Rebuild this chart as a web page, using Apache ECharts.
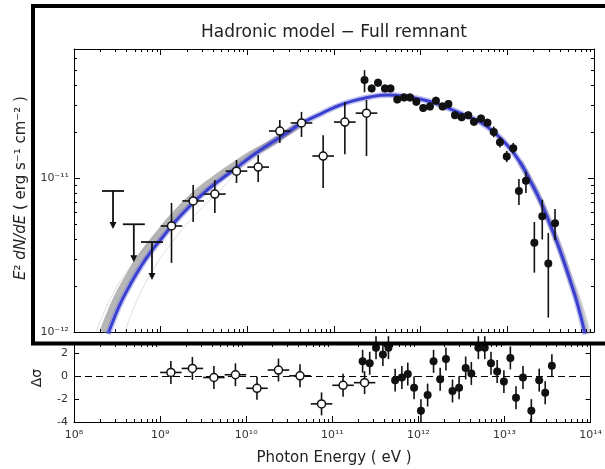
<!DOCTYPE html>
<html><head><meta charset="utf-8">
<script src="https://cdn.jsdelivr.net/npm/echarts@6/dist/echarts.min.js"></script>
<style>html,body{margin:0;padding:0;background:#fff}#c{width:605px;height:469px}</style>
</head><body><div id="c"></div>
<script>
// ---------- data ----------
const xTickLabels = ['10⁸','10⁹','10¹⁰','10¹¹','10¹²','10¹³','10¹⁴'];
const yTickLabels = {'-12':'10⁻¹²','-11':'10⁻¹¹'};

const upperLimitE = [2.82e8, 4.90e8, 7.94e8];
const upperLimitF = [8.24e-12, 5.01e-12, 3.84e-12];

const fermiE   = [1.334e9, 2.371e9, 4.217e9, 7.499e9, 1.334e10, 2.371e10, 4.217e10, 7.499e10, 1.334e11, 2.371e11];
const fermiELo = [1e9, 1.778e9, 3.162e9, 5.623e9, 1e10, 1.778e10, 3.162e10, 5.623e10, 1e11, 1.778e11];
const fermiEHi = [1.778e9, 3.162e9, 5.623e9, 1e10, 1.778e10, 3.162e10, 5.623e10, 1e11, 1.778e11, 3.162e11];
const fermiF   = [4.88e-12, 7.10e-12, 7.87e-12, 1.109e-11, 1.178e-11, 2.02e-11, 2.28e-11, 1.39e-11, 2.31e-11, 2.64e-11];
const fermiFLo = [2.81e-12, 5.18e-12, 5.93e-12, 9.29e-12, 9.42e-12, 1.69e-11, 1.85e-11, 8.61e-12, 1.43e-11, 1.39e-11];
const fermiFHi = [6.89e-12, 9.02e-12, 9.70e-12, 1.31e-11, 1.41e-11, 2.38e-11, 2.69e-11, 1.90e-11, 3.12e-11, 3.21e-11];

const hessE = [2.25e11, 2.72e11, 3.22e11, 3.87e11, 4.49e11, 5.37e11, 6.43e11, 7.53e11, 8.91e11, 1.07e12,
  1.28e12, 1.50e12, 1.79e12, 2.09e12, 2.49e12, 2.97e12, 3.54e12, 4.12e12, 4.97e12, 5.90e12,
  6.97e12, 8.22e12, 9.84e12, 1.17e13, 1.36e13, 1.64e13, 2.05e13, 2.53e13, 2.97e13, 3.55e13];
const hessF = [4.33e-11, 3.82e-11, 4.16e-11, 3.82e-11, 3.82e-11, 3.24e-11, 3.34e-11, 3.34e-11, 3.13e-11, 2.85e-11,
  2.92e-11, 3.18e-11, 2.92e-11, 3.03e-11, 2.56e-11, 2.48e-11, 2.56e-11, 2.32e-11, 2.44e-11, 2.29e-11,
  1.99e-11, 1.71e-11, 1.38e-11, 1.56e-11, 8.24e-12, 9.59e-12, 3.80e-12, 5.64e-12, 2.79e-12, 5.08e-12];
const hessFLo = [3.61e-11, 3.61e-11, 3.93e-11, 3.61e-11, 3.61e-11, 3.06e-11, 3.15e-11, 3.15e-11, 2.96e-11, 2.69e-11,
  2.76e-11, 3.00e-11, 2.76e-11, 2.86e-11, 2.42e-11, 2.34e-11, 2.42e-11, 2.19e-11, 2.30e-11, 2.16e-11,
  1.84e-11, 1.58e-11, 1.27e-11, 1.44e-11, 6.68e-12, 8.00e-12, 2.43e-12, 3.99e-12, 1.24e-12, 3.95e-12];
const hessFHi = [5.02e-11, 4.05e-11, 4.41e-11, 4.05e-11, 4.05e-11, 3.43e-11, 3.54e-11, 3.54e-11, 3.31e-11, 3.02e-11,
  3.09e-11, 3.37e-11, 3.09e-11, 3.21e-11, 2.71e-11, 2.63e-11, 2.71e-11, 2.46e-11, 2.58e-11, 2.43e-11,
  2.16e-11, 1.85e-11, 1.50e-11, 1.69e-11, 9.86e-12, 1.099e-11, 5.18e-12, 7.24e-12, 4.40e-12, 6.30e-12];

const modelE = [2.47e8, 2.97e8, 3.58e8, 4.43e8, 5.78e8, 7.54e8, 1.036e9, 1.46e9, 2.18e9, 3.24e9, 4.84e9, 7.40e9,
  1.13e10, 1.73e10, 2.72e10, 4.05e10, 6.54e10, 1.03e11, 1.61e11, 2.60e11, 4.08e11, 6.59e11, 9.82e11,
  1.46e12, 2.18e12, 3.24e12, 4.84e12, 7.21e12, 1.02e13, 1.40e13, 1.82e13, 2.38e13, 3.10e13, 4.05e13, 5.28e13, 6.53e13, 7.87e13];
const modelF = [9.7e-13, 1.27e-12, 1.61e-12, 2.02e-12, 2.61e-12, 3.26e-12, 4.08e-12, 5.18e-12, 6.58e-12, 8.11e-12, 9.70e-12, 1.16e-11,
  1.39e-11, 1.64e-11, 1.93e-11, 2.24e-11, 2.56e-11, 2.89e-11, 3.16e-11, 3.36e-11, 3.46e-11, 3.40e-11, 3.26e-11,
  3.07e-11, 2.81e-11, 2.56e-11, 2.31e-11, 1.96e-11, 1.61e-11, 1.27e-11, 9.70e-12, 7.20e-12, 5.03e-12, 3.40e-12, 2.18e-12, 1.48e-12, 9.7e-13];

// grey uncertainty band: low-energy side and high-energy tail
const bandLowE = [2.16e8, 2.60e8, 3.13e8, 3.87e8, 5.06e8, 6.59e8, 9.07e8, 1.28e9, 1.91e9, 2.85e9, 4.35e9, 6.65e9, 1.07e10, 1.73e10, 2.72e10, 4.05e10];
const bandLowF = [1.0e-12, 1.31e-12, 1.66e-12, 2.08e-12, 2.69e-12, 3.36e-12, 4.20e-12, 5.33e-12, 6.78e-12, 8.36e-12, 1.0e-11, 1.18e-11, 1.41e-11, 1.64e-11, 1.93e-11, 2.24e-11];
const bandHighE = [1.40e13, 1.82e13, 2.38e13, 3.10e13, 4.05e13, 5.28e13, 6.89e13, 8.53e13];
const bandHighF = [1.27e-11, 9.70e-12, 7.25e-12, 5.10e-12, 3.48e-12, 2.25e-12, 1.48e-12, 9.7e-13];

const sampleAE = [1.80e8, 2.28e8, 2.97e8, 4.20e8, 6.59e8, 1.12e9, 2.18e9, 4.24e9, 8.22e9, 1.83e10, 4.05e10];
const sampleAF = [1.0e-12, 1.39e-12, 1.87e-12, 2.53e-12, 3.51e-12, 4.88e-12, 6.89e-12, 9.02e-12, 1.16e-11, 1.57e-11, 2.24e-11];
const sampleBE = [3.87e8, 5.06e8, 7.54e8, 1.28e9, 2.49e9, 4.84e9, 1.07e10, 2.38e10, 5.28e10];
const sampleBF = [1.0e-12, 1.50e-12, 2.34e-12, 3.67e-12, 5.75e-12, 8.36e-12, 1.31e-11, 1.77e-11, 2.34e-11];

const fermiResid = [0.32, 0.67, -0.12, 0.12, -1.06, 0.53, 0.03, -2.42, -0.80, -0.57];
const hessResid = [1.29, 1.12, 2.48, 1.88, 2.48, -0.35, -0.12, 0.18, -1.01, -3.01, -1.65, 1.29, -0.27, 1.50, -1.30,
  -1.01, 0.71, 0.23, 2.48, 2.48, 1.12, 0.41, -0.48, 1.59, -1.89, -0.12, -3.01, -0.35, -1.45, 0.91];
const residErr = 1;

// ---------- helpers ----------
const FONT = '"DejaVu Sans", "Liberation Sans", sans-serif';
const X_MIN = 1e8, X_MAX = 1e14, Y_MIN = 1e-12, Y_MAX = 6.89e-11;
const xMinor = []; for (let d = 8; d < 14; d++) for (let m = 2; m <= 9; m++) xMinor.push(m * Math.pow(10, d));
const yMinor = []; for (let d = -12; d < -10; d++) for (let m = 2; m <= 9; m++) { const v = m * Math.pow(10, d); if (v < Y_MAX) yMinor.push(v); }
const zip = (...arrs) => arrs[0].map((_, i) => arrs.map(a => a[i]));
const isPow10 = v => { const l = Math.log10(v); return Math.abs(l - Math.round(l)) < 1e-6; };
const ink = '#111';

function errRender(withX) {
  return function (params, api) {
    const x = api.value(0), y = api.value(1);
    const lo = api.coord([x, api.value(withX ? 4 : 2)]);
    const hi = api.coord([x, api.value(withX ? 5 : 3)]);
    const ch = [{type: 'line', shape: {x1: lo[0], y1: lo[1], x2: hi[0], y2: hi[1]}, style: {stroke: ink, lineWidth: 1.6}}];
    if (withX) {
      const l = api.coord([api.value(2), y]), r = api.coord([api.value(3), y]);
      ch.push({type: 'line', shape: {x1: l[0], y1: l[1], x2: r[0], y2: r[1]}, style: {stroke: ink, lineWidth: 1.6}});
    }
    return {type: 'group', children: ch};
  };
}
function xMinorRender(params, api) {
  const cs = params.coordSys;
  const x = Math.round(api.coord([api.value(0), api.value(1)])[0]) + 0.5;
  return {type: 'group', children: [
    {type: 'line', shape: {x1: x, y1: cs.y + cs.height, x2: x, y2: cs.y + cs.height - 3}, style: {stroke: '#000', lineWidth: 1}},
    {type: 'line', shape: {x1: x, y1: cs.y, x2: x, y2: cs.y + 3}, style: {stroke: '#000', lineWidth: 1}}
  ]};
}
function yMinorRender(params, api) {
  const cs = params.coordSys;
  const y = Math.round(api.coord([api.value(0), api.value(1)])[1]) + 0.5;
  return {type: 'group', children: [
    {type: 'line', shape: {x1: cs.x, y1: y, x2: cs.x + 3, y2: y}, style: {stroke: '#000', lineWidth: 1}},
    {type: 'line', shape: {x1: cs.x + cs.width, y1: y, x2: cs.x + cs.width - 3, y2: y}, style: {stroke: '#000', lineWidth: 1}}
  ]};
}
function ulRender(params, api) {
  const p = api.coord([api.value(0), api.value(1)]);
  const x = p[0], y = p[1];
  return {type: 'group', children: [
    {type: 'line', shape: {x1: x - 11, y1: y, x2: x + 11, y2: y}, style: {stroke: ink, lineWidth: 1.8}},
    {type: 'line', shape: {x1: x, y1: y, x2: x, y2: y + 32}, style: {stroke: ink, lineWidth: 1.8}},
    {type: 'polygon', shape: {points: [[x - 3.5, y + 31], [x + 3.5, y + 31], [x, y + 38]]}, style: {fill: ink}}
  ]};
}

const axisLineStyle = {onZero: false, lineStyle: {color: '#000', width: 1}};
const majorTick = {inside: true, length: 6, lineStyle: {color: '#000', width: 1}};

const option = {
  animation: false,
  textStyle: {fontFamily: FONT},
  grid: [
    {left: 74, right: 11, top: 49, height: 283},
    {left: 74, right: 11, top: 344, height: 78}
  ],
  xAxis: [
    {type: 'log', gridIndex: 0, position: 'bottom', min: X_MIN, max: X_MAX, axisLine: axisLineStyle, axisTick: majorTick, axisLabel: {show: false}, splitLine: {show: false}},
    {type: 'log', gridIndex: 0, position: 'top', min: X_MIN, max: X_MAX, axisLine: axisLineStyle, axisTick: majorTick, axisLabel: {show: false}, splitLine: {show: false}},
    {type: 'log', gridIndex: 1, position: 'bottom', min: X_MIN, max: X_MAX, axisLine: axisLineStyle, axisTick: majorTick,
      axisLabel: {color: '#333', fontSize: 11, margin: 8, showMinLabel: true, showMaxLabel: true,
        formatter: v => isPow10(v) ? xTickLabels[Math.round(Math.log10(v)) - 8] : ''},
      splitLine: {show: false}}
  ],
  yAxis: [
    {type: 'log', gridIndex: 0, position: 'left', min: Y_MIN, max: Y_MAX, axisLine: axisLineStyle, axisTick: majorTick,
      axisLabel: {color: '#333', fontSize: 11, margin: 5, showMinLabel: true,
        formatter: v => isPow10(v) ? (yTickLabels[String(Math.round(Math.log10(v)))] || '') : ''},
      splitLine: {show: false}},
    {type: 'log', gridIndex: 0, position: 'right', min: Y_MIN, max: Y_MAX, axisLine: axisLineStyle, axisTick: majorTick, axisLabel: {show: false}, splitLine: {show: false}},
    {type: 'value', gridIndex: 1, position: 'left', min: -4, max: 2.8, interval: 2, axisLine: axisLineStyle, axisTick: {inside: true, length: 5, lineStyle: {color: '#000'}},
      axisLabel: {color: '#333', fontSize: 11, margin: 6, showMaxLabel: false, formatter: v => (Math.abs(v / 2 - Math.round(v / 2)) < 1e-9 ? String(v) : '')},
      splitLine: {show: false}},
    {type: 'value', gridIndex: 1, position: 'right', min: -4, max: 2.8, interval: 2, axisLine: axisLineStyle, axisTick: {inside: true, length: 5, lineStyle: {color: '#000'}},
      axisLabel: {show: false}, splitLine: {show: false}}
  ],
  series: [
    {type: 'line', xAxisIndex: 0, yAxisIndex: 0, data: zip(sampleAE, sampleAF), smooth: true, symbol: 'none', lineStyle: {color: 'rgba(150,150,150,0.3)', width: 1}, z: 1},
    {type: 'line', xAxisIndex: 0, yAxisIndex: 0, data: zip(sampleBE, sampleBF), smooth: true, symbol: 'none', lineStyle: {color: 'rgba(150,150,150,0.3)', width: 1}, z: 1},
    {type: 'line', xAxisIndex: 0, yAxisIndex: 0, data: zip(bandLowE, bandLowF), smooth: true, symbol: 'none', lineStyle: {color: 'rgba(110,110,110,0.5)', width: 7}, z: 2},
    {type: 'line', xAxisIndex: 0, yAxisIndex: 0, data: zip(bandHighE, bandHighF), smooth: true, symbol: 'none', lineStyle: {color: 'rgba(130,130,130,0.35)', width: 6}, z: 2},
    {type: 'line', xAxisIndex: 0, yAxisIndex: 0, data: zip(modelE, modelF), smooth: true, symbol: 'none', lineStyle: {color: 'rgba(80,85,210,0.35)', width: 6}, z: 3},
    {type: 'line', xAxisIndex: 0, yAxisIndex: 0, data: zip(modelE, modelF), smooth: true, symbol: 'none', lineStyle: {color: '#3a3fcf', width: 3}, z: 3},
    {type: 'custom', xAxisIndex: 0, yAxisIndex: 0, data: zip(upperLimitE, upperLimitF), renderItem: ulRender, z: 5},
    {type: 'custom', xAxisIndex: 0, yAxisIndex: 0, data: zip(fermiE, fermiF, fermiELo, fermiEHi, fermiFLo, fermiFHi), renderItem: errRender(true), z: 5},
    {type: 'scatter', xAxisIndex: 0, yAxisIndex: 0, data: zip(fermiE, fermiF), symbol: 'circle', symbolSize: 8, itemStyle: {color: '#fff', borderColor: ink, borderWidth: 1.5, opacity: 1}, z: 6},
    {type: 'custom', xAxisIndex: 0, yAxisIndex: 0, data: zip(hessE, hessF, hessFLo, hessFHi), renderItem: errRender(false), z: 5},
    {type: 'scatter', xAxisIndex: 0, yAxisIndex: 0, data: zip(hessE, hessF), symbol: 'circle', symbolSize: 8, itemStyle: {color: ink, opacity: 1}, z: 6},
    {type: 'custom', xAxisIndex: 0, yAxisIndex: 0, data: xMinor.map(v => [v, 1e-11]), renderItem: xMinorRender, z: 7, silent: true},
    {type: 'custom', xAxisIndex: 0, yAxisIndex: 0, data: yMinor.map(v => [1e10, v]), renderItem: yMinorRender, z: 7, silent: true},
    {type: 'custom', xAxisIndex: 2, yAxisIndex: 2, data: zip(fermiE, fermiResid, fermiELo, fermiEHi, fermiResid.map(r => r - residErr), fermiResid.map(r => r + residErr)), renderItem: errRender(true), z: 5},
    {type: 'scatter', xAxisIndex: 2, yAxisIndex: 2, data: zip(fermiE, fermiResid), symbol: 'circle', symbolSize: 8, itemStyle: {color: '#fff', borderColor: ink, borderWidth: 1.5, opacity: 1}, z: 6},
    {type: 'custom', xAxisIndex: 2, yAxisIndex: 2, data: zip(hessE, hessResid, hessResid.map(r => r - residErr), hessResid.map(r => r + residErr)), renderItem: errRender(false), z: 5},
    {type: 'scatter', xAxisIndex: 2, yAxisIndex: 2, data: zip(hessE, hessResid), symbol: 'circle', symbolSize: 8, itemStyle: {color: ink, opacity: 1}, z: 6,
      markLine: {silent: true, symbol: 'none', label: {show: false}, lineStyle: {color: '#000', type: [7, 4], width: 1.2}, data: [{yAxis: 0}]}},
    {type: 'custom', xAxisIndex: 2, yAxisIndex: 2, data: xMinor.map(v => [v, 0]), renderItem: xMinorRender, z: 7, silent: true}
  ],
  graphic: [
    {type: 'text', x: 334, y: 33, style: {text: 'Hadronic model − Full remnant', font: '17px ' + FONT, fill: '#222', align: 'center', verticalAlign: 'middle'}},
    {type: 'text', x: 21, y: 188, rotation: Math.PI / 2, style: {text: '{i|E}² {i|dN/dE} ( erg s⁻¹ cm⁻² )', font: '15px ' + FONT, fill: '#222', align: 'center', verticalAlign: 'middle',
      rich: {i: {fontStyle: 'italic', fontSize: 15, fontFamily: FONT, fill: '#222'}}}},
    {type: 'text', x: 37, y: 378, rotation: Math.PI / 2, style: {text: 'Δσ', font: '14px ' + FONT, fill: '#222', align: 'center', verticalAlign: 'middle'}},
    {type: 'text', x: 334, y: 458, style: {text: 'Photon Energy ( eV )', font: '15px ' + FONT, fill: '#222', align: 'center', verticalAlign: 'middle'}},
    {type: 'rect', z: 100, shape: {x: 33, y: 6, width: 700, height: 337.5}, style: {fill: 'transparent', stroke: '#000', lineWidth: 4}}
  ]
};
echarts.init(document.getElementById('c')).setOption(option);
</script>
</body></html>
